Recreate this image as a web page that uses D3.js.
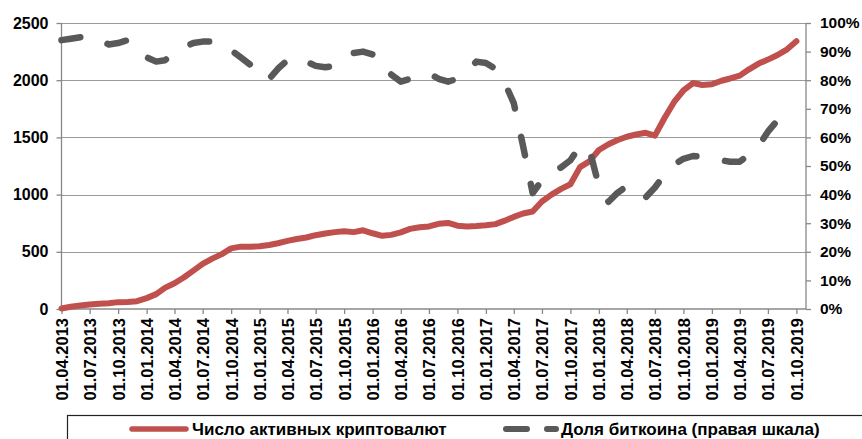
<!DOCTYPE html>
<html>
<head>
<meta charset="utf-8">
<script src="https://d3js.org/d3.v7.min.js"></script>
<style>
  body { margin: 0; background: #fff; }
  text { font-family: "Liberation Sans", Arial, sans-serif; font-weight: bold; fill: #000; }
</style>
</head>
<body>
<div id="container"></div>
<script type="text/javascript">

var width = 862, height = 439;

// monthly observations, 04.2013 .. 10.2019
var months = [
  "04.2013","05.2013","06.2013","07.2013","08.2013","09.2013","10.2013","11.2013","12.2013",
  "01.2014","02.2014","03.2014","04.2014","05.2014","06.2014","07.2014","08.2014","09.2014","10.2014","11.2014","12.2014",
  "01.2015","02.2015","03.2015","04.2015","05.2015","06.2015","07.2015","08.2015","09.2015","10.2015","11.2015","12.2015",
  "01.2016","02.2016","03.2016","04.2016","05.2016","06.2016","07.2016","08.2016","09.2016","10.2016","11.2016","12.2016",
  "01.2017","02.2017","03.2017","04.2017","05.2017","06.2017","07.2017","08.2017","09.2017","10.2017","11.2017","12.2017",
  "01.2018","02.2018","03.2018","04.2018","05.2018","06.2018","07.2018","08.2018","09.2018","10.2018","11.2018","12.2018",
  "01.2019","02.2019","03.2019","04.2019","05.2019","06.2019","07.2019","08.2019","09.2019","10.2019"
];

// number of active cryptocurrencies (left scale)
var coins = [
  5, 20, 30, 40, 45, 50, 60, 62, 68,
  95, 130, 185, 225, 275, 335, 395, 440, 480, 530, 545, 545,
  548, 560, 575, 595, 612, 625, 645, 660, 672, 680, 672, 688,
  662, 640, 648, 670, 700, 715, 722, 745, 752, 728, 722, 725,
  732, 742, 770, 805, 835, 852, 940, 1000, 1050, 1090, 1240, 1290,
  1390, 1440, 1475, 1506, 1525, 1540, 1515, 1670, 1810, 1910, 1975, 1958,
  1965, 1995, 2015, 2040, 2095, 2145, 2180, 2220, 2270, 2340
];

// bitcoin share, % (right scale)
var btcShare = [
  94, 94.5, 95, 95.5, 94, 92.5, 93, 94, 91,
  88, 86.5, 87, 89, 91.5, 93, 93.5, 93.5, 93, 90.5, 88, 85.5,
  81, 80.5, 84, 87, 88, 86.5, 85, 84.5, 85, 87, 89.5, 90,
  89, 87.5, 82, 79.5, 80.5, 81.5, 82.4, 80.5, 79.5, 80.5, 83, 86.5,
  86, 84, 79.5, 72, 57, 40.5, 45, 48, 49.5, 52, 57, 56,
  43, 37.5, 40.5, 43, 40, 39, 42.5, 47, 50.5, 52.5, 53.5, 53.3,
  52.7, 52, 51.5, 51.5, 54, 57, 62, 66, 68, 66.5
];

var xTicks = [
  "01.04.2013","01.07.2013","01.10.2013","01.01.2014","01.04.2014","01.07.2014","01.10.2014",
  "01.01.2015","01.04.2015","01.07.2015","01.10.2015","01.01.2016","01.04.2016","01.07.2016",
  "01.10.2016","01.01.2017","01.04.2017","01.07.2017","01.10.2017","01.01.2018","01.04.2018",
  "01.07.2018","01.10.2018","01.01.2019","01.04.2019","01.07.2019","01.10.2019"
];
var leftTicks = [0, 500, 1000, 1500, 2000, 2500];
var rightTicks = [0, 0.1, 0.2, 0.3, 0.4, 0.5, 0.6, 0.7, 0.8, 0.9, 1];

var seriesNames = ["Число активных криптовалют", "Доля биткоина (правая шкала)"];

var parseMonth = d3.timeParse("%m.%Y");
var parseDay = d3.timeParse("%d.%m.%Y");

var plotL = 61.5, plotR = 806, plotT = 23, plotB = 309;

var svg = d3.select('#container')
  .append('svg')
  .attr('width', width)
  .attr('height', height);

var x = d3.scaleTime()
  .domain([parseDay("01.04.2013"), parseDay("01.11.2019")])
  .range([plotL, plotR]);
var yL = d3.scaleLinear().domain([0, 2500]).range([plotB, plotT]);
var yR = d3.scaleLinear().domain([0, 1]).range([plotB, plotT]);

// grid
svg.append("g")
  .selectAll("line")
  .data(leftTicks.slice(1))
  .enter().append("line")
  .attr("x1", plotL).attr("x2", plotR)
  .attr("y1", d => Math.round(yL(d)) + 0.5)
  .attr("y2", d => Math.round(yL(d)) + 0.5)
  .attr("stroke", "#9a9a9a")
  .attr("stroke-width", 1.2);

// axes
var axL = svg.append("g")
  .attr("transform", "translate(" + plotL + ",0)")
  .call(d3.axisLeft(yL).tickValues(leftTicks).tickSize(5).tickPadding(8)
    .tickFormat(d3.format("d")));
var axR = svg.append("g")
  .attr("transform", "translate(" + plotR + ",0)")
  .call(d3.axisRight(yR).tickValues(rightTicks).tickSize(5).tickPadding(9)
    .tickFormat(d3.format(".0%")));
var axX = svg.append("g")
  .attr("transform", "translate(0," + plotB + ")")
  .call(d3.axisBottom(x).tickValues(xTicks.map(parseDay)).tickSize(5)
    .tickFormat(d3.timeFormat("%d.%m.%Y")));

[axL, axR, axX].forEach(function(a){
  a.attr("font-family", null).attr("font-size", null);
  a.selectAll(".domain").attr("stroke", "#888").attr("stroke-width", 1.3);
  a.selectAll(".tick line").attr("stroke", "#888").attr("stroke-width", 1.3);
  a.selectAll("text").attr("fill", "#000").style("font-size", "16px");
});
axL.selectAll(".domain").attr("d", "M0," + plotT + "V" + plotB);
axR.selectAll(".domain").attr("d", "M0," + plotT + "V" + plotB);
axX.selectAll(".domain").attr("d", "M" + plotL + ",0H" + plotR);
axR.selectAll("text").style("font-size", "15.5px");

axX.selectAll("text")
  .style("font-size", "16.5px")
  .attr("transform", "rotate(-90)")
  .attr("text-anchor", "end")
  .attr("x", -9)
  .attr("y", 0)
  .attr("dy", "0.36em");

// lines
var redLine = d3.line()
  .x((d, i) => x(parseMonth(months[i])))
  .y(d => yL(d));
var greyLine = d3.line()
  .x((d, i) => x(parseMonth(months[i])))
  .y(d => yR(d / 100));

svg.append("path")
  .datum(coins)
  .attr("d", redLine)
  .attr("fill", "none")
  .attr("stroke", "#c0504d")
  .attr("stroke-width", 6)
  .attr("stroke-linejoin", "round")
  .attr("stroke-linecap", "round");

svg.append("path")
  .datum(btcShare)
  .attr("d", greyLine)
  .attr("fill", "none")
  .attr("stroke", "#595959")
  .attr("stroke-width", 6.5)
  .attr("stroke-dasharray", "19,29")
  .attr("stroke-linejoin", "round")
  .attr("stroke-linecap", "round");

// legend
var lg = svg.append("g");
lg.append("rect")
  .attr("x", 67.5).attr("y", 415.5)
  .attr("width", 820).attr("height", 40)
  .attr("fill", "#fff")
  .attr("stroke", "#222")
  .attr("stroke-width", 1.2);
lg.append("line")
  .attr("x1", 132).attr("x2", 186).attr("y1", 429).attr("y2", 429)
  .attr("stroke", "#c0504d").attr("stroke-width", 5.5)
  .attr("stroke-linecap", "round");
lg.append("text")
  .attr("x", 192).attr("y", 435)
  .style("font-size", "17px")
  .text(seriesNames[0]);
lg.append("line")
  .attr("x1", 506).attr("x2", 556).attr("y1", 429).attr("y2", 429)
  .attr("stroke", "#595959").attr("stroke-width", 6)
  .attr("stroke-dasharray", "21,20")
  .attr("stroke-linecap", "round");
lg.append("text")
  .attr("x", 561).attr("y", 435)
  .style("font-size", "17px")
  .text(seriesNames[1]);

</script>
</body>
</html>
